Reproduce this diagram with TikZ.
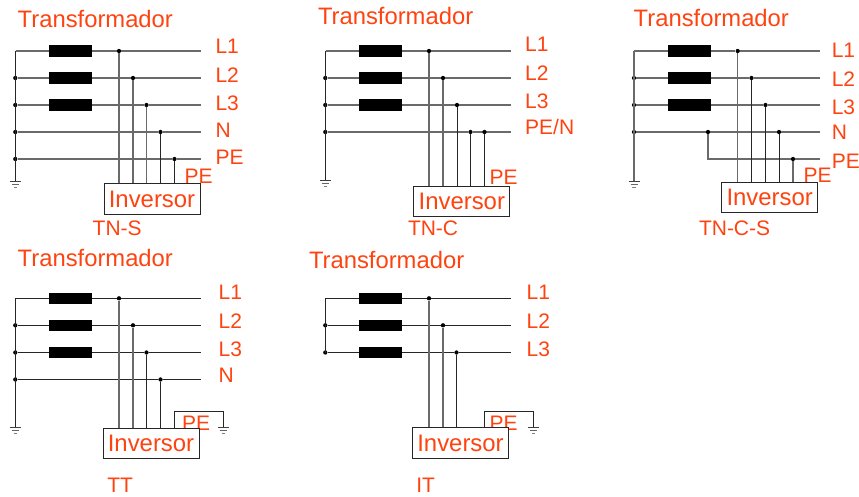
\documentclass[tikz,border=0pt]{standalone}
\usepackage{fontspec}
\setmainfont{Liberation Sans}
\definecolor{lab}{HTML}{FF4310}
\definecolor{gwire}{HTML}{6A6A6A}
\tikzset{
  x=1pt,y=-1pt,
  gw/.style={draw=gwire,line width=1.35pt},
  bw/.style={draw=black!85,line width=0.9pt},
  joint/.style={circle,fill=black,inner sep=0pt,minimum size=4.3pt},
  corner/.style={inner sep=0pt,minimum size=0pt},
  coil/.style={rectangle,fill=black,inner sep=0pt,minimum width=43pt,minimum height=11.5pt},
  inverter/.style={rectangle,draw=black!85,line width=0.9pt,fill=white,inner sep=0pt,minimum width=96pt,minimum height=30.5pt,text=lab,font=\fontsize{23.9}{24}\selectfont},
  title/.style={anchor=base west,inner sep=0pt,text=lab,font=\fontsize{23.8}{24}\selectfont},
  lbl/.style={anchor=base west,inner sep=0pt,text=lab,font=\fontsize{21}{22}\selectfont},
  earth/.pic={
    \draw[draw=black!75,line width=0.8pt] (-5.5,0) -- (5.5,0);
    \draw[draw=black!60,line width=0.8pt] (-3.5,3) -- (3.5,3);
    \draw[draw=black!50,line width=0.8pt] (-1.7,6) -- (1.7,6);
  }
}
% prefix, index, y, bus x, tap x, end x, wire style, bus node style
\newcommand{\Lane}[8]{%
  \node[#8] (#1b#2) at (#4,#3) {};
  \node[joint] (#1t#2) at (#5,#3) {};
  \coordinate (#1e#2) at (#6,#3);
  \draw[#7] (#1b#2) -- (#1t#2) -- (#1e#2);
}
\newcommand{\Drop}[3]{\draw[#3] (#1t#2) -- (#1t#2 |- #1inv.north);}
\begin{document}
\begin{tikzpicture}
\useasboundingbox (0,0) rectangle (859,497);

% ---------- TN-S
\node[title] (atitle) at (17.5,27.7) {Transformador};
\Lane{a}{1}{51}{15.3}{119}{201}{gw}{corner}
\Lane{a}{2}{78}{15.3}{133}{201}{gw}{joint}
\Lane{a}{3}{105}{15.3}{146.5}{201}{gw}{joint}
\Lane{a}{4}{132}{15.3}{160.5}{201}{gw}{joint}
\Lane{a}{5}{159}{15.3}{174.5}{201}{gw}{joint}
\coordinate (ag) at (15.3,181);
\draw[bw] (ab1.center) -- (ag);
\pic at (ag) {earth};
\node[coil] (ac1) at (70.5,51) {};
\node[coil] (ac2) at (70.5,78) {};
\node[coil] (ac3) at (70.5,105) {};
\node[lbl] (al1) at (215.3,54) {L1};
\node[lbl] (al2) at (215.3,83) {L2};
\node[lbl] (al3) at (215.3,111) {L3};
\node[lbl] (al4) at (215.3,137.5) {N};
\node[lbl] (al5) at (215.3,164.7) {PE};
\node[lbl] (ape) at (184.5,183.3) {PE};
\node[inverter] (ainv) at (152,199) {Inversor};
\Drop{a}{1}{gw}\Drop{a}{2}{gw}\Drop{a}{3}{gw}\Drop{a}{4}{bw}\Drop{a}{5}{bw}
\node[lbl] (aname) at (92.5,235.7) {TN-S};

% ---------- TN-C
\node[title] (btitle) at (317.8,25) {Transformador};
\Lane{b}{1}{51}{325.3}{429}{511}{gw}{corner}
\Lane{b}{2}{78}{325.3}{443}{511}{gw}{joint}
\Lane{b}{3}{105}{325.3}{457}{511}{gw}{joint}
\Lane{b}{4}{132}{325.3}{470.5}{511}{gw}{joint}
\node[joint] (bt5) at (484.5,132) {};
\coordinate (bg) at (325.3,180.5);
\draw[bw] (bb1.center) -- (bg);
\pic at (bg) {earth};
\node[coil] (bc1) at (380.5,51) {};
\node[coil] (bc2) at (380.5,78) {};
\node[coil] (bc3) at (380.5,105) {};
\node[lbl] (bl1) at (525,51.7) {L1};
\node[lbl] (bl2) at (525,81) {L2};
\node[lbl] (bl3) at (525,109) {L3};
\node[lbl] (bl4) at (525,135) {PE/N};
\node[lbl] (bpe) at (489.5,184.3) {PE};
\node[inverter] (binv) at (461.8,201.3) {Inversor};
\Drop{b}{1}{gw}\Drop{b}{2}{gw}\Drop{b}{3}{bw}\Drop{b}{4}{bw}\Drop{b}{5}{bw}
\node[lbl] (bname) at (407.8,236) {TN-C};

% ---------- TN-C-S
\node[title] (ctitle) at (633.5,26.7) {Transformador};
\Lane{c}{1}{51}{634}{737.7}{820}{gw}{corner}
\Lane{c}{2}{78}{634}{751.5}{820}{gw}{joint}
\Lane{c}{3}{105}{634}{765.5}{820}{gw}{joint}
\Lane{c}{4}{132}{634}{779}{820}{gw}{joint}
\node[joint] (cn) at (708,132) {};
\coordinate (cbend) at (708,159);
\node[joint] (ct5) at (793,159) {};
\coordinate (ce5) at (820,159);
\draw[gw] (cn) -- (cbend) -- (ct5) -- (ce5);
\coordinate (cg) at (634,181);
\draw[gw] (cb1.center) -- (cg);
\pic at (cg) {earth};
\node[coil] (cc1) at (689.5,51) {};
\node[coil] (cc2) at (689.5,78) {};
\node[coil] (cc3) at (689.5,105) {};
\node[lbl] (cl1) at (831.6,57.3) {L1};
\node[lbl] (cl2) at (831.6,86.7) {L2};
\node[lbl] (cl3) at (831.6,115) {L3};
\node[lbl] (cl4) at (831.6,140) {N};
\node[lbl] (cl5) at (831.6,168.3) {PE};
\node[lbl] (cpe) at (803.5,182.3) {PE};
\node[inverter] (cinv) at (769.7,197.3) {Inversor};
\Drop{c}{1}{gw}\Drop{c}{2}{bw}\Drop{c}{3}{bw}\Drop{c}{4}{bw}\Drop{c}{5}{gw}
\node[lbl] (cname) at (698.8,236) {TN-C-S};

% ---------- TT
\node[title] (dtitle) at (17.5,266.7) {Transformador};
\Lane{d}{1}{298.3}{15.3}{119}{201}{bw}{corner}
\Lane{d}{2}{325.3}{15.3}{133}{201}{bw}{joint}
\Lane{d}{3}{352.5}{15.3}{146.5}{201}{bw}{joint}
\Lane{d}{4}{379.5}{15.3}{160.5}{201}{bw}{joint}
\coordinate (dg) at (15.3,427.7);
\draw[bw] (db1.center) -- (dg);
\pic at (dg) {earth};
\node[coil] (dc1) at (70.5,298.3) {};
\node[coil] (dc2) at (70.5,325.3) {};
\node[coil] (dc3) at (70.5,352.5) {};
\node[lbl] (dl1) at (218.5,299) {L1};
\node[lbl] (dl2) at (218.5,328.3) {L2};
\node[lbl] (dl3) at (218.5,356.7) {L3};
\node[lbl] (dl4) at (218.5,382.3) {N};
\coordinate (dpa) at (174.5,411.5);
\coordinate (dpb) at (223.5,411.5);
\coordinate (dpg) at (223.5,427);
\node[lbl] (dpe) at (182,430) {PE};
\node[inverter] (dinv) at (151,443.3) {Inversor};
\draw[bw] (dpa |- dinv.north) -- (dpa) -- (dpb) -- (dpg);
\pic at (dpg) {earth};
\Drop{d}{1}{gw}\Drop{d}{2}{gw}\Drop{d}{3}{bw}\Drop{d}{4}{bw}
\node[lbl] (dname) at (107.2,492.3) {TT};

% ---------- IT
\node[title] (etitle) at (308.8,268.3) {Transformador};
\Lane{e}{1}{298.3}{325.3}{429}{511}{bw}{corner}
\Lane{e}{2}{325.3}{325.3}{443}{511}{bw}{joint}
\Lane{e}{3}{352.5}{325.3}{456.5}{511}{bw}{joint}
\draw[bw] (eb1.center) -- (eb3.center);
\node[coil] (ec1) at (380.5,298.3) {};
\node[coil] (ec2) at (380.5,325.3) {};
\node[coil] (ec3) at (380.5,352.5) {};
\node[lbl] (el1) at (526.5,299) {L1};
\node[lbl] (el2) at (526.5,328.3) {L2};
\node[lbl] (el3) at (526.5,356.7) {L3};
\coordinate (epa) at (484.5,411.5);
\coordinate (epb) at (533.5,411.5);
\coordinate (epg) at (533.5,427);
\node[lbl] (epe) at (489.5,430) {PE};
\node[inverter] (einv) at (460.5,443) {Inversor};
\draw[bw] (epa |- einv.north) -- (epa) -- (epb) -- (epg);
\pic at (epg) {earth};
\Drop{e}{1}{gw}\Drop{e}{2}{gw}\Drop{e}{3}{bw}
\node[lbl] (ename) at (416.2,492.3) {IT};
\end{tikzpicture}
\end{document}
